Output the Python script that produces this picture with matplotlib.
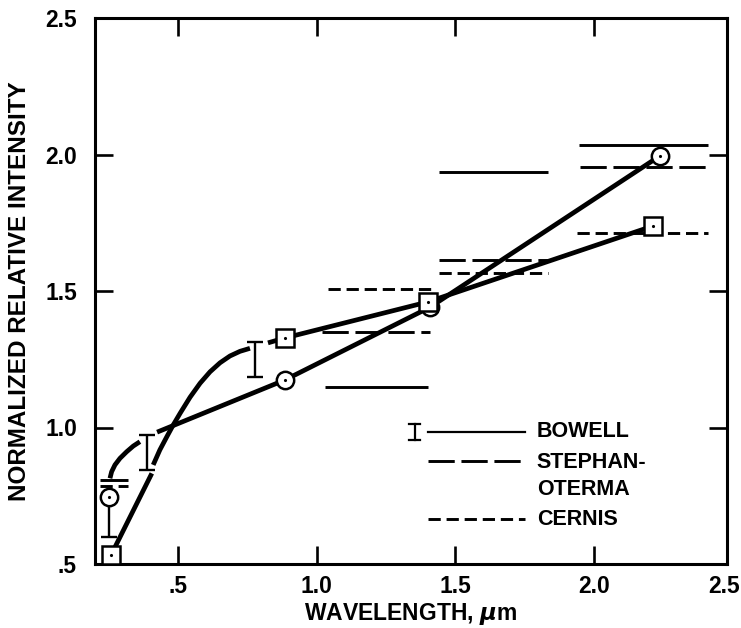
import matplotlib
matplotlib.use('Agg')
import matplotlib.pyplot as plt

plt.rcParams['font.family'] = ['Liberation Sans', 'DejaVu Sans']
plt.rcParams['font.weight'] = 'bold'

# ---- data ----
# circle model: marker points
circ_x = [0.249, 0.885, 1.409, 2.238]
circ_y = [0.744, 1.174, 1.441, 1.995]
# circle model: short arc near the short-wavelength end
circ_arc_x = [0.254, 0.260, 0.272, 0.290, 0.314, 0.338, 0.362]
circ_arc_y = [0.814, 0.838, 0.863, 0.887, 0.911, 0.932, 0.948]
# circle model: straight part
circ_line_x = [0.424, 0.885, 1.409, 2.238]
circ_line_y = [0.983, 1.174, 1.441, 1.995]

# square model: marker points
sq_x = [0.258, 0.885, 1.401, 2.213]
sq_y = [0.533, 1.328, 1.460, 1.738]
sq_seg_x = [0.258, 0.405]
sq_seg_y = [0.533, 0.832]
sq_curve_x = [0.410, 0.434, 0.459, 0.482, 0.507, 0.543, 0.579, 0.615,
              0.651, 0.687, 0.723, 0.759]
sq_curve_y = [0.863, 0.918, 0.966, 1.009, 1.052, 1.111, 1.162, 1.204,
              1.237, 1.262, 1.279, 1.290]
sq_line_x = [0.824, 0.885, 1.401, 2.213]
sq_line_y = [1.310, 1.328, 1.460, 1.738]

# Bowell error bars
bow_err_x = [0.249, 0.388, 0.777]
bow_err_lo = [0.600, 0.845, 1.185]
bow_err_hi = [0.740, 0.972, 1.313]

# horizontal bars: (x start, x end, level)
bowell_x0 = [0.218, 1.030, 1.441, 1.946]
bowell_x1 = [0.319, 1.400, 1.834, 2.410]
bowell_y = [0.808, 1.148, 1.936, 2.035]

stephan_x0 = [1.020, 1.441, 1.950]
stephan_x1 = [1.410, 1.834, 2.410]
stephan_y = [1.350, 1.613, 1.954]

cernis_x0 = [0.218, 1.040, 1.441, 1.940]
cernis_x1 = [0.319, 1.420, 1.834, 2.410]
cernis_y = [0.786, 1.507, 1.566, 1.712]

xtick_vals = [0.5, 1.0, 1.5, 2.0, 2.468]
xtick_labels = ['.5', '1.0', '1.5', '2.0', '2.5']
ytick_vals = [0.5, 1.0, 1.5, 2.0, 2.5]
ytick_labels = ['.5', '1.0', '1.5', '2.0', '2.5']

legend_names = ['BOWELL', 'STEPHAN-', 'OTERMA', 'CERNIS']

# ---- figure ----
fig = plt.figure(figsize=(7.41, 6.28), dpi=100)
ax = fig.add_axes([95/741, 64/628, 632/741, 546/628])
ax.set_xlim(0.2, 2.48)
ax.set_ylim(0.5, 2.5)

thick = 3.4
bar_lw = 2.1
long_dash = (0, (9, 2.3))
short_dash = (0, (4.2, 2.0))

# curves
for xs, ys in [(circ_arc_x, circ_arc_y), (circ_line_x, circ_line_y),
               (sq_seg_x, sq_seg_y), (sq_curve_x, sq_curve_y),
               (sq_line_x, sq_line_y)]:
    ax.plot(xs, ys, color='black', lw=thick, solid_capstyle='butt',
            solid_joinstyle='round', zorder=3)

# horizontal bars
ax.hlines(bowell_y, bowell_x0, bowell_x1, colors='black', lw=bar_lw, zorder=2)
ax.hlines(stephan_y, stephan_x0, stephan_x1, colors='black', lw=bar_lw,
          linestyles=[long_dash], zorder=2)
ax.hlines(cernis_y, cernis_x0, cernis_x1, colors='black', lw=bar_lw,
          linestyles=[short_dash], zorder=2)

# error bars
for x, lo, hi in zip(bow_err_x, bow_err_lo, bow_err_hi):
    ax.errorbar([x], [(lo + hi) / 2], yerr=[[(hi - lo) / 2], [(hi - lo) / 2]],
                fmt='none', ecolor='black', elinewidth=1.7, capsize=6,
                capthick=1.7, zorder=4)

# markers
ax.plot(circ_x, circ_y, 'o', ms=12.5, mfc='white', mec='black', mew=1.8, zorder=5)
ax.plot(circ_x, circ_y, '.', ms=2.5, color='black', zorder=6)
ax.plot(sq_x, sq_y, 's', ms=12.5, mfc='white', mec='black', mew=1.8, zorder=7)
ax.plot(sq_x, sq_y, '.', ms=2.5, color='black', zorder=8)

# ticks & spines
for s in ax.spines.values():
    s.set_linewidth(2.2)
ax.set_xticks(xtick_vals)
ax.set_xticklabels(xtick_labels)
ax.set_yticks(ytick_vals)
ax.set_yticklabels(ytick_labels)
ax.tick_params(axis='both', direction='in', length=13, width=1.9,
               top=True, right=True, labelsize=16.5)
ax.tick_params(axis='x', pad=8)
ax.tick_params(axis='y', pad=13)
for lbl in ax.get_xticklabels() + ax.get_yticklabels():
    lbl.set_fontweight('bold')
# hide tick marks at the corners (the spines are there)
for t in ax.xaxis.get_major_ticks()[-1:]:
    t.tick1line.set_visible(False)
    t.tick2line.set_visible(False)
for t in [ax.yaxis.get_major_ticks()[0], ax.yaxis.get_major_ticks()[-1]]:
    t.tick1line.set_visible(False)
    t.tick2line.set_visible(False)

ax.set_xlabel('WAVELENGTH, $\\mu$m', fontsize=16.5, fontweight='bold', labelpad=2)
ax.set_ylabel('NORMALIZED RELATIVE INTENSITY', fontsize=17.5, fontweight='bold', labelpad=10)

# legend (drawn manually in axes coordinates)
tr = ax.transAxes
lx0, lx1 = 0.527, 0.680
ax.plot([lx0, lx1], [0.242, 0.242], color='black', lw=1.6, transform=tr)
ax.plot([lx0, lx1], [0.189, 0.189], color='black', lw=bar_lw, linestyle=long_dash, transform=tr)
ax.plot([lx0, lx1], [0.082, 0.082], color='black', lw=bar_lw, linestyle=short_dash, transform=tr)
# error bar icon
ax.plot([0.506, 0.506], [0.228, 0.256], color='black', lw=1.6, transform=tr)
ax.plot([0.497, 0.515], [0.256, 0.256], color='black', lw=1.6, transform=tr)
ax.plot([0.497, 0.515], [0.228, 0.228], color='black', lw=1.6, transform=tr)
for name, yy in zip(legend_names, [0.242, 0.185, 0.136, 0.082]):
    ax.text(0.699, yy, name, transform=tr, fontsize=15.5,
            fontweight='bold', va='center', ha='left')

fig.savefig('out.png', dpi=100)
